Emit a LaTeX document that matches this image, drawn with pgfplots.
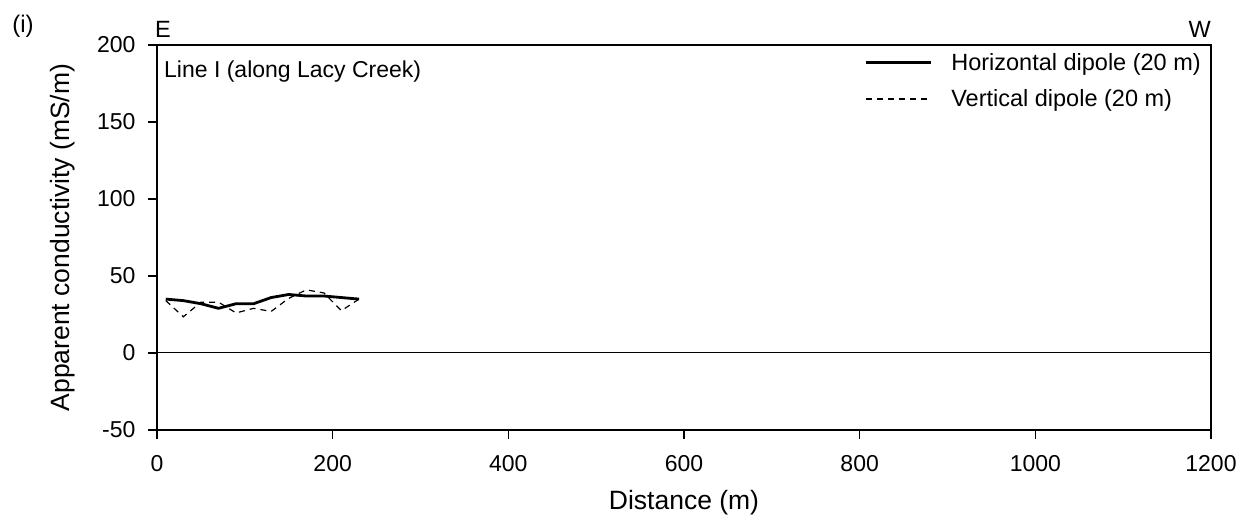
\documentclass[border=0pt]{standalone}
\usepackage{pgfplots}
\pgfplotsset{compat=1.18}
\usepackage{fontspec}
\setmainfont{Liberation Sans}
\begin{document}
\begin{tikzpicture}[x=1pt,y=1pt]
\begin{axis}[
  scale only axis,
  width=1054pt, height=385pt,
  at={(0pt,0pt)}, anchor=south west,
  xmin=0, xmax=1200, ymin=-50, ymax=200,
  xtick={0,200,...,1200}, ytick={-50,0,...,200},
  tick align=outside, major tick length=9pt,
  xtick pos=bottom, ytick pos=left,
  axis line style={line width=1.3pt},
  every tick/.style={black, line width=1.2pt},
  tick label style={font=\fontsize{23}{27}\selectfont},
  /pgf/number format/assume math mode=true,
  /pgf/number format/1000 sep={},
  xticklabel style={yshift=-13pt},
  yticklabel style={xshift=-9pt},
  xlabel={Distance (m)},
  ylabel={Apparent conductivity (mS/m)},
  label style={font=\fontsize{26.5}{30}\selectfont},
  xlabel style={yshift=-12pt},
  ylabel style={yshift=15pt},
  legend style={draw=none, fill=none, at={(rel axis cs:1,1)}, anchor=north east,
    font=\fontsize{23.5}{28}\selectfont, row sep=14pt, inner sep=2pt,
    xshift=-6pt, yshift=-4pt,
    /tikz/every even column/.append style={column sep=0pt}},
  legend cell align=left,
  legend image code/.code={\draw[#1] (0pt,0pt) -- (65pt,0pt);},
]
\addplot[black, line width=2.8pt, line join=round] coordinates {
(10,35) (30,34) (50,32) (70,29) (90,32) (110,32) (130,36) (150,38) (170,37) (190,37) (210,36) (230,35)
};
\addlegendentry{\hspace{17pt}Horizontal dipole (20 m)}
\addplot[black, line width=1.2pt, dash pattern=on 6pt off 5pt] coordinates {
(10,34) (30,23.5) (50,33) (70,33) (90,26) (110,29) (130,27) (150,35.5) (170,41) (190,39) (210,27.5) (230,35)
};
\addlegendentry{\hspace{17pt}Vertical dipole (20 m)}
\draw[black, line width=1pt] (axis cs:0,0) -- (axis cs:1200,0);
\node[anchor=north west, font=\fontsize{23}{27}\selectfont, inner sep=0pt] at (rel axis cs:0,1) [xshift=7pt, yshift=-16pt] {Line I (along Lacy Creek)};
\end{axis}
\node[anchor=base west, font=\fontsize{23.5}{28}\selectfont, inner sep=0pt] at (-2pt,392pt) {E};
\node[anchor=base east, font=\fontsize{23.5}{28}\selectfont, inner sep=0pt] at (1054pt,392pt) {W};
\node[font=\fontsize{24}{28}\selectfont, inner sep=0pt] at (-134pt,404pt) {(i)};
\path (-157pt,-91pt) rectangle (1090pt,430pt);
\end{tikzpicture}
\end{document}
